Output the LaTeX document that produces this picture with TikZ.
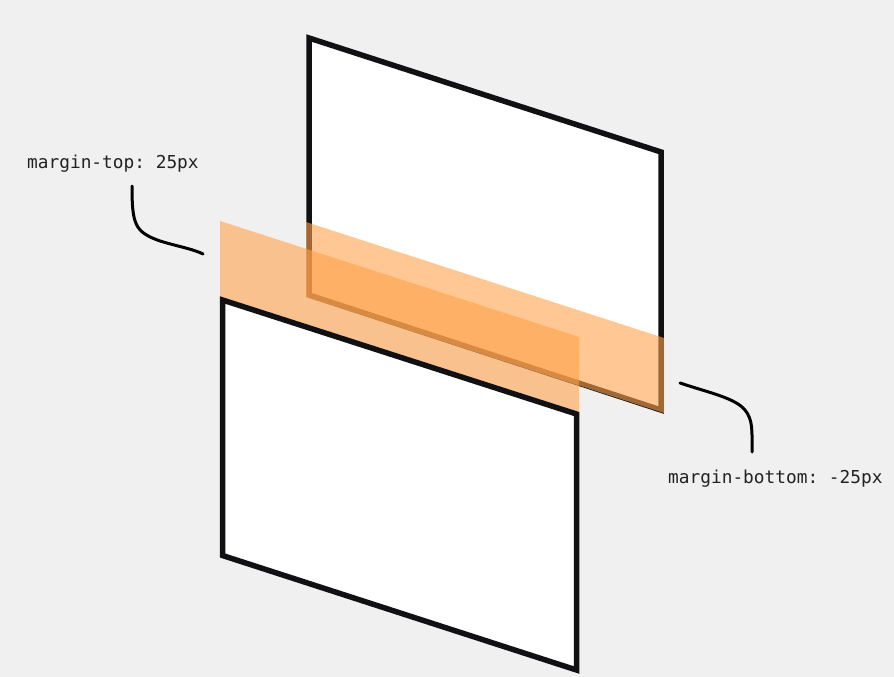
\documentclass[tikz,border=0pt]{standalone}
\usepackage{fontspec}
\setmonofont{DejaVu Sans Mono}
\definecolor{pagebg}{HTML}{F0F0F0}
\definecolor{boxedge}{HTML}{111114}
\definecolor{marginorange}{HTML}{FFA24B}
\definecolor{labelink}{HTML}{222222}
\tikzset{
  boxline/.style={draw=boxedge, fill=white, line width=5.5pt, line join=miter},
  marginband/.style={fill=marginorange, fill opacity=0.6},
  pointer/.style={draw=black, line width=3pt, line cap=round},
  lbl/.style={anchor=base west, inner sep=0pt, text=labelink,
    font=\ttfamily\fontsize{17.8}{20}\selectfont}
}
\begin{document}
\begin{tikzpicture}[x=1pt, y=-1pt]
  % page
  \fill[pagebg] (0, 0) rectangle (894, 677);
  \useasboundingbox (0, 0) rectangle (894, 677);

  % Upper box (behind)
  \draw[boxline] (309, 38) -- (661, 152) -- (661, 410) -- (309, 295) -- cycle;

  % Its negative bottom margin, drawn over the box
  \fill[marginband] (306, 222) -- (664, 338) -- (664, 413) -- (306, 297) -- cycle;

  % Top margin of the lower box
  \fill[marginband] (220, 221) -- (579, 337) -- (579, 412) -- (220, 297) -- cycle;

  % Lower box
  \draw[boxline] (222.5, 300) -- (576.5, 414) -- (576.5, 670) -- (222.5, 555.5) -- cycle;

  % Labels
  \node[lbl] (mtop) at (27, 168) {margin-top: 25px};
  \node[lbl] (mbot) at (668, 483) {margin-bottom: -25px};

  % Pointer ends
  \coordinate (mtopstart) at (132, 186);
  \coordinate (mtopend) at (203, 254);
  \coordinate (mbotstart) at (680, 383);
  \coordinate (mbotend) at (752, 452);

  % Hand-drawn pointers
  \draw[pointer] (mtopstart) .. controls (132, 225) and (135, 232) .. (160, 241)
    .. controls (180, 247) and (193, 249) .. (mtopend);
  \draw[pointer] (mbotstart) .. controls (710, 393) and (735, 398) .. (745, 410)
    .. controls (753, 420) and (752, 430) .. (mbotend);
\end{tikzpicture}
\end{document}
